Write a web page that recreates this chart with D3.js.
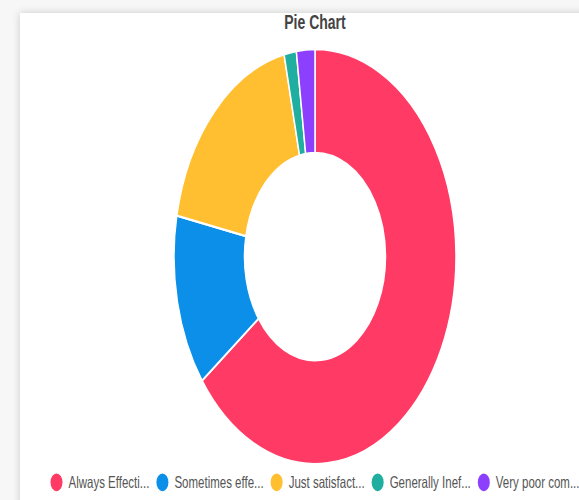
<!DOCTYPE html>
<html>
<head>
<meta charset="utf-8">
<script src="https://cdn.jsdelivr.net/npm/d3@7"></script>
<style>
  html, body { margin: 0; padding: 0; }
  body {
    width: 579px; height: 500px; overflow: hidden;
    background: #f7f7f7;
    position: relative;
  }
  #card {
    position: absolute; left: 20px; top: 13px;
    width: 600px; height: 520px;
    background: #fff;
    box-shadow: 0 0 8px rgba(0,0,0,0.18);
  }
  #chart { position: absolute; left: 0; top: 0; }
</style>
</head>
<body>
<div id="card"></div>
<div id="chart"></div>
<script>
// data
var labels = ["Always Effecti...", "Sometimes effe...", "Just satisfact...", "Generally Inef...", "Very poor com..."];
var values = [92, 19, 26, 2, 3];
var colors = ["#ff3a64", "#0b8fe9", "#ffbf30", "#1fae9f", "#8c3ffc"];

// picture is stretched vertically, so draw in a flat box and stretch it
var width = 579;
var height = 340;
var cx = 315, cy = 174.5;
var radius = 141;

var svg = d3.select("#chart")
  .append("svg")
  .attr("width", 579)
  .attr("height", 500)
  .attr("viewBox", "0 0 " + width + " " + height)
  .attr("preserveAspectRatio", "none")
  .style("font-family", "'Liberation Sans', Arial, sans-serif");

//title
svg.append("text")
  .attr("x", cx)
  .attr("y", 19.5)
  .attr("text-anchor", "middle")
  .style("font-size", "14px")
  .style("font-weight", "bold")
  .style("fill", "#444")
  .text("Pie Chart");

var pie = d3.pie()
  .sort(null)
  .value(function(d) { return d; });

var arc = d3.arc()
  .innerRadius(radius * 0.5)
  .outerRadius(radius);

var g = svg.append("g")
  .attr("transform", "translate(" + cx + "," + cy + ")");

g.selectAll("path")
  .data(pie(values))
  .enter()
  .append("path")
  .attr("d", arc)
  .attr("fill", function(d, i) { return colors[i]; })
  .attr("stroke", "#fff")
  .attr("stroke-width", 1.5);

//legend, centred like chart.js does it
var legendY = 328;
var box = 12, pad = 7, gap = 6, fontSize = 11.5;
var legend = svg.append("g");

var items = legend.selectAll("g")
  .data(labels)
  .enter()
  .append("g");

items.append("circle")
  .attr("r", 6)
  .attr("cy", legendY)
  .attr("fill", function(d, i) { return colors[i]; });

items.append("text")
  .attr("y", legendY + 4)
  .style("font-size", fontSize + "px")
  .style("fill", "#555")
  .text(function(d) { return d; });

var widths = [];
items.select("text").each(function() { widths.push(this.getComputedTextLength()); });
var total = d3.sum(widths, function(w) { return box + gap + w; }) + pad * (labels.length - 1);
var x = cx - total / 2;
items.each(function(d, i) {
  var it = d3.select(this);
  it.select("circle").attr("cx", x + box / 2);
  it.select("text").attr("x", x + box + gap);
  x += box + gap + widths[i] + pad;
});
</script>
</body>
</html>
